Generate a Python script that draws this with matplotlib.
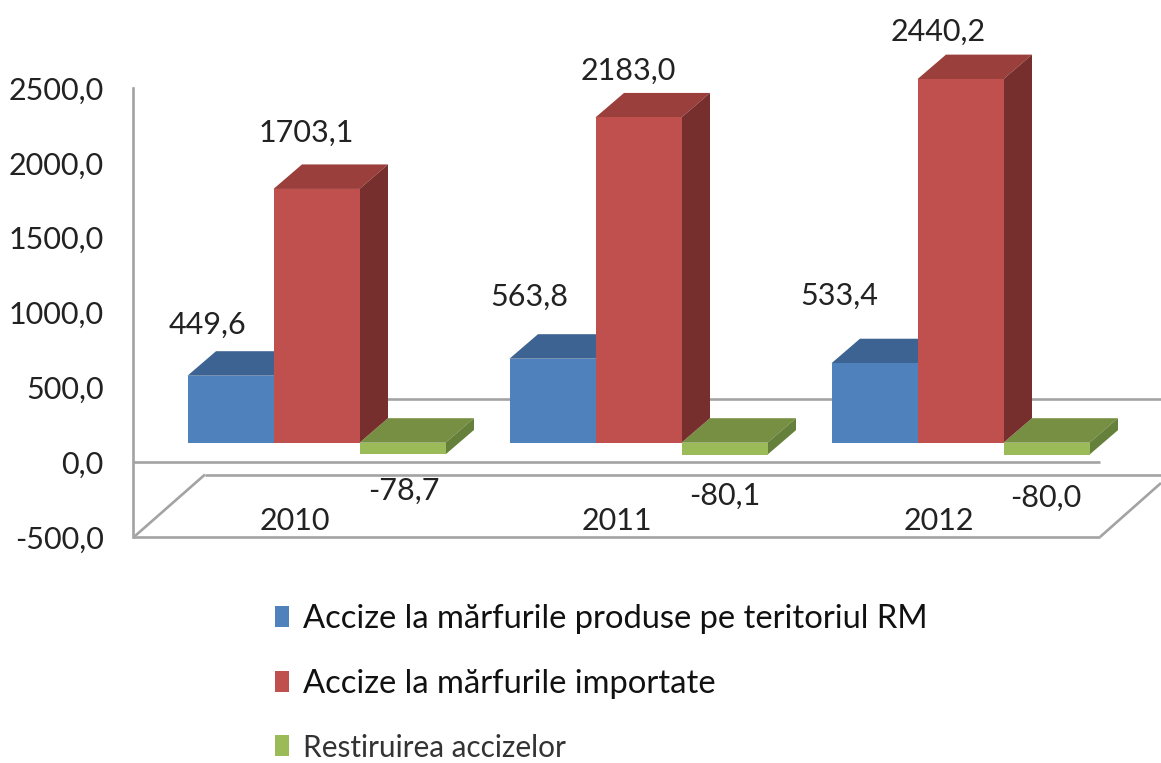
import matplotlib
matplotlib.use("Agg")
import matplotlib.pyplot as plt
from matplotlib.patches import Patch, Polygon
from matplotlib.transforms import Affine2D

W, H = 1161, 763

years = ["2010", "2011", "2012"]
produse = [449.6, 563.8, 533.4]
importate = [1703.1, 2183.0, 2440.2]
restituire = [-78.7, -80.1, -80.0]
y_ticks = [-500, 0, 500, 1000, 1500, 2000, 2500]

series_names = ["Accize la mărfurile produse pe teritoriul RM",
                "Accize la mărfurile importate",
                "Restiruirea accizelor"]

# front, top, side
blue = ["#4F81BD", "#3C6391", "#33557D"]
red = ["#C0504D", "#9A3F3C", "#772F2D"]
green = ["#9BBB59", "#768F42", "#65803A"]

plt.rcParams["font.family"] = ["Lato", "DejaVu Sans"]

fig = plt.figure(figsize=(W / 100, H / 100), dpi=100)

# main axes fills the figure: x in groups, y in chart units
PX_PER_GROUP = 322.0
PX_PER_UNIT = 0.149
X0 = 316.5
Y0 = 442.7
ax = fig.add_axes([0, 0, 1, 1])
ax.set_xlim((0 - X0) / PX_PER_GROUP, (W - X0) / PX_PER_GROUP)
ax.set_ylim((Y0 - H) / PX_PER_UNIT, Y0 / PX_PER_UNIT)
ax.axis("off")

bar_w = 86 / PX_PER_GROUP
depth_x = 28.5 / PX_PER_GROUP
depth_y = 24.5 / PX_PER_UNIT

# frame lines in pixel coordinates (y going down)
px = Affine2D().scale(1, -1).translate(0, H)
grey = "#A3A3A3"
frame = [
    ([205, 1161], [399, 399]),
    ([133, 1100], [462, 462]),
    ([205, 1161], [474.5, 474.5]),
    ([133, 1100], [537, 537]),
    ([135, 205], [536, 474.5]),
    ([1100, 1161], [537, 483]),
]
for fx, fy in frame:
    ax.plot(fx, fy, color=grey, lw=1.9, transform=px, zorder=1, solid_capstyle="butt", clip_on=False)


def draw_bar(x, v, cols, z):
    left = x - bar_w / 2
    right = x + bar_w / 2
    low = min(v, 0)
    high = max(v, 0)
    ax.bar(x, v, width=bar_w, color=cols[0], linewidth=0, zorder=z + 0.2)
    ax.add_patch(Polygon([(left, high), (left + depth_x, high + depth_y),
                          (right + depth_x, high + depth_y), (right, high)],
                         facecolor=cols[1], edgecolor="none", zorder=z))
    ax.add_patch(Polygon([(right, high), (right + depth_x, high + depth_y),
                          (right + depth_x, low + depth_y), (right, low)],
                         facecolor=cols[2], edgecolor="none", zorder=z + 0.1))


for i in range(len(years)):
    draw_bar(i - bar_w, produse[i], blue, 2)
    draw_bar(i + bar_w, restituire[i], green, 3)
    draw_bar(i, importate[i], red, 4)

# y axis
ax_y = fig.add_axes([133 / W, 1 - 537 / H, 0.0001, (537 - 88) / H])
ax_y.patch.set_alpha(0)
ax_y.set_ylim(-500, 2500)
ax_y.set_xticks([])
ax_y.set_yticks(y_ticks)
ax_y.set_yticklabels([f"{t:.1f}".replace(".", ",") for t in y_ticks], fontsize=22, color="#222222")
ax_y.tick_params(axis="y", length=0, pad=21)
for s in ["top", "right", "bottom"]:
    ax_y.spines[s].set_visible(False)
ax_y.spines["left"].set_color(grey)
ax_y.spines["left"].set_linewidth(1.9)


def fmt(v):
    return f"{v:.1f}".replace(".", ",")


# label offsets in pixels from the bar end
blue_off = [(-23, 51), (-23, 62), (-35, 67)]
red_off = [(-10, 56), (-10, 47), (-22, 47)]
green_off = [(1, -36), (0, -41), (-1, -43)]

for i, year in enumerate(years):
    for x, v, off in [(i - bar_w, produse[i], blue_off[i]),
                      (i, importate[i], red_off[i]),
                      (i + bar_w, restituire[i], green_off[i])]:
        ax.annotate(fmt(v), xy=(x, v), xytext=off, textcoords="offset pixels",
                    ha="center", va="center", fontsize=22, color="#222222", zorder=6)
    ax.annotate(year, xy=(i, 0), xytext=(-22, -78), textcoords="offset pixels",
                ha="center", va="center", fontsize=22, color="#222222", zorder=6)

# legend
handles = [Patch(facecolor=c[0], edgecolor="none") for c in (blue, red, green)]
leg = fig.legend(handles, series_names, loc="upper left", bbox_to_anchor=(274.5 / W, 1 - 604 / H),
                 frameon=False, fontsize=23.6, handlelength=0.43, handleheight=0.58,
                 handletextpad=0.43, labelspacing=1.07, borderpad=0, borderaxespad=0)
for t in leg.get_texts():
    t.set_color("#111111")
leg.get_texts()[2].set_fontsize(21.4)
leg.get_texts()[2].set_color("#333333")

fig.savefig("out.png", dpi=100, facecolor="white")
